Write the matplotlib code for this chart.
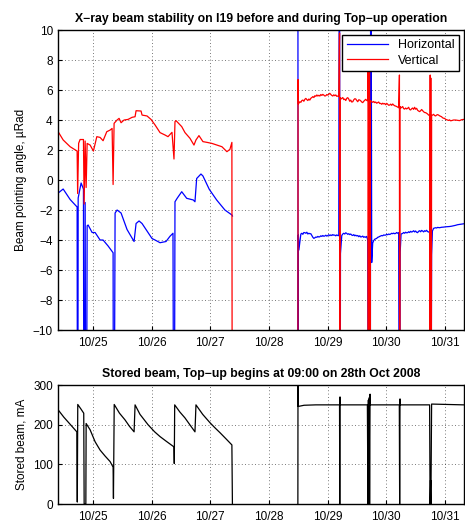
import numpy as np
import matplotlib
matplotlib.use("Agg")
import matplotlib.pyplot as plt

plt.rcParams['font.family'] = ['Liberation Sans', 'DejaVu Sans']

nan = np.nan
# ---- Horizontal beam pointing angle (time in days of October 2008, value in µRad)
h_t = [24.403, 24.489, 24.608, 24.727, 24.736, 24.745, 24.795, 24.835, 24.847, 24.864, 24.881,
       24.898, 24.915, 24.983, 25.034, 25.119, 25.170, 25.256, 25.341, 25.349, 25.375, 25.409,
       25.477, 25.579, 25.699, 25.733, 25.784, 25.835, 25.937, 26.005, 26.057, 26.142, 26.244,
       26.312, 26.363, 26.380, 26.397, 26.437, 26.512, 26.597, 26.709, 26.738, 26.767, 26.840,
       26.874, 26.982, 27.108, 27.249, 27.368, 27.377, 27.40,
       28.494, 28.498, 28.503, 28.511,
       28.545, 28.562, 28.579, 28.596, 28.613, 28.630, 28.647, 28.664, 28.681, 28.698, 28.715,
       28.733, 28.750, 28.767, 28.784, 28.801, 28.818, 28.835, 28.852, 28.869, 28.886, 28.903,
       28.920, 28.937, 28.954, 28.971, 28.988, 29.005, 29.022, 29.039, 29.056, 29.073, 29.090,
       29.107, 29.124, 29.141, 29.158, 29.175, 29.192,
       29.205, 29.212, 29.221,
       29.243, 29.260, 29.277, 29.294, 29.311, 29.328, 29.345, 29.362, 29.379, 29.396, 29.413,
       29.431, 29.448, 29.465, 29.482, 29.499, 29.516, 29.533, 29.550, 29.567, 29.584, 29.601,
       29.618, 29.635, 29.652, 29.669, 29.686,
       29.700, 29.720, 29.730, 29.737,
       29.754, 29.771, 29.788, 29.805, 29.822, 29.839, 29.856, 29.873, 29.890, 29.908, 29.925,
       29.942, 29.959, 29.976, 29.993, 30.010, 30.027, 30.044, 30.061, 30.078, 30.095, 30.112,
       30.129, 30.146, 30.163, 30.180, 30.197, 30.214,
       30.231,
       30.240, 30.255, 30.282, 30.299, 30.316, 30.333, 30.350, 30.367, 30.384, 30.401, 30.418,
       30.435, 30.452, 30.469, 30.486, 30.503, 30.520, 30.537, 30.554, 30.572, 30.589, 30.606,
       30.623, 30.640, 30.657, 30.674, 30.691, 30.708, 30.725, 30.742,
       30.759,
       30.776, 30.790, 30.810, 30.827, 30.844, 30.861, 30.878, 30.912, 30.946, 30.980, 31.014,
       31.048, 31.082, 31.116, 31.150, 31.185, 31.219, 31.253, 31.287, 31.321]
h_v = [-0.87, -0.6, -1.3, -1.8, -30, -1.2, -0.2, -0.6, -30, -1.5, -30,
       -3.05, -3.0, -3.5, -3.5, -4.0, -4.0, -4.4, -4.85, -30, -2.2, -2.0,
       -2.2, -3.3, -4.1, -2.9, -2.73, -2.9, -3.5, -3.9, -4.0, -4.18, -4.1,
       -3.75, -3.55, -30, -1.45, -1.2, -0.78, -1.22, -1.33, -1.45, 0.1, 0.4,
       0.27, -0.62, -1.33, -2.0, -2.33, -2.4, nan,
       30, -30, -3.67, -4.67,
       -3.6, -3.55, -3.62, -3.5, -3.51, -3.55, -3.48, -3.6, -3.55, -3.58, -3.58,
       -3.7, -3.82, -3.89, -3.85, -3.8, -3.82, -3.76, -3.8, -3.78, -3.72, -3.76,
       -3.7, -3.75, -3.73, -3.68, -3.74, -3.7, -3.65, -3.71, -3.66, -3.7, -3.64,
       -3.68, -3.67, -3.72, -3.66, -3.7, -3.71,
       30, -30, -4.9,
       -3.7, -3.6, -3.55, -3.6, -3.52, -3.56, -3.62, -3.58, -3.64, -3.6, -3.67,
       -3.7, -3.64, -3.72, -3.68, -3.73, -3.7, -3.78, -3.72, -3.8, -3.78, -3.74,
       -3.82, -3.78, -3.82, -3.76, -4.0,
       -30, -7.7, -30, 30,
       -5.5, -4.2, -4.04, -3.95, -3.92, -3.89, -3.82, -3.8, -3.76, -3.73, -3.7,
       -3.72, -3.66, -3.68, -3.67, -3.62, -3.65, -3.6, -3.63, -3.6, -3.55, -3.58,
       -3.54, -3.58, -3.56, -3.5, -3.55, -3.51,
       -30,
       -4.8, -3.6, -3.56, -3.5, -3.55, -3.48, -3.52, -3.51, -3.45, -3.5, -3.42,
       -3.47, -3.44, -3.38, -3.46, -3.4, -3.48, -3.51, -3.42, -3.38, -3.45, -3.36,
       -3.4, -3.46, -3.38, -3.42, -3.35, -3.44, -3.46, -3.51,
       -30,
       -5.0, -3.4, -3.22, -3.2, -3.18, -3.2, -3.16, -3.18, -3.15, -3.14, -3.12,
       -3.11, -3.1, -3.08, -3.05, -3.02, -2.98, -2.96, -2.94, -2.92]

# ---- Vertical beam pointing angle
v_t = [24.403, 24.489, 24.608, 24.727, 24.736, 24.753, 24.778, 24.835, 24.847, 24.864, 24.881,
       24.898, 24.949, 25.005, 25.063, 25.119, 25.170, 25.233, 25.290, 25.324, 25.341, 25.358,
       25.409, 25.443, 25.477, 25.528, 25.596, 25.665, 25.716, 25.733, 25.818, 25.835, 25.920,
       25.988, 26.057, 26.142, 26.227, 26.278, 26.346, 26.380, 26.397, 26.414, 26.512, 26.568,
       26.653, 26.721, 26.755, 26.806, 26.874, 26.943, 27.028, 27.113, 27.198, 27.283, 27.334,
       27.368, 27.377, 27.40,
       28.494, 28.497,
       28.502, 28.515, 28.528, 28.545, 28.562, 28.579, 28.596, 28.613, 28.630, 28.647, 28.664,
       28.681, 28.698, 28.715, 28.733, 28.750, 28.767, 28.784, 28.801, 28.818, 28.835, 28.852,
       28.869, 28.886, 28.903, 28.920, 28.937, 28.954, 28.971, 28.988, 29.005, 29.022, 29.039,
       29.056, 29.073, 29.090, 29.107, 29.124, 29.141, 29.158, 29.175, 29.192,
       29.205, 29.209,
       29.215, 29.230, 29.243, 29.260, 29.277, 29.294, 29.311, 29.328, 29.345, 29.362, 29.379,
       29.396, 29.413, 29.431, 29.448, 29.465, 29.482, 29.499, 29.516, 29.533, 29.550, 29.567,
       29.584, 29.601, 29.618, 29.635, 29.652, 29.669, 29.686,
       29.690, 29.695, 29.702, 29.709, 29.716, 29.724,
       29.732, 29.754, 29.771, 29.788, 29.805, 29.822, 29.839, 29.856, 29.873, 29.890, 29.908,
       29.925, 29.942, 29.959, 29.976, 29.993, 30.010, 30.027, 30.044, 30.061, 30.078, 30.095,
       30.112, 30.129, 30.146, 30.163, 30.180, 30.197, 30.214,
       30.227, 30.231,
       30.237, 30.250, 30.265, 30.282, 30.299, 30.316, 30.333, 30.350, 30.367, 30.384, 30.401,
       30.418, 30.435, 30.452, 30.469, 30.486, 30.503, 30.520, 30.537, 30.554, 30.572, 30.589,
       30.606, 30.623, 30.640, 30.657, 30.674, 30.691, 30.708, 30.725, 30.742,
       30.746, 30.752, 30.757, 30.762, 30.768,
       30.776, 30.793, 30.810, 30.827, 30.844, 30.861, 30.878, 30.895, 30.912, 30.929, 30.946,
       30.963, 30.980, 30.997, 31.014, 31.031, 31.048, 31.065, 31.082, 31.099, 31.116, 31.150,
       31.185, 31.219, 31.253, 31.287, 31.321]
v_v = [3.22, 2.67, 2.22, 1.93, -0.9, 2.45, 2.7, 2.7, -1.6, 2.6, -0.5,
       2.44, 2.33, 1.93, 2.89, 2.84, 2.62, 3.22, 3.33, 3.44, -0.3, 3.78,
       4.0, 4.11, 3.82, 4.0, 4.04, 4.18, 4.22, 4.62, 4.6, 4.33, 4.27,
       4.04, 3.67, 3.16, 3.0, 2.89, 3.18, 1.4, 3.89, 3.96, 3.56, 3.16,
       2.78, 2.33, 2.67, 2.96, 2.56, 2.51, 2.44, 2.33, 2.22, 1.89, 2.04,
       2.51, -30, nan,
       -30, 6.7,
       5.07, 5.15, 5.22, 5.18, 5.3, 5.33, 5.25, 5.38, 5.44, 5.36, 5.3,
       5.4, 5.33, 5.45, 5.5, 5.56, 5.5, 5.62, 5.58, 5.67, 5.6, 5.65,
       5.6, 5.7, 5.64, 5.71, 5.66, 5.6, 5.62, 5.7, 5.66, 5.72, 5.78,
       5.7, 5.64, 5.6, 5.68, 5.62, 5.67, 5.58, 5.6, 5.56,
       9.8, -30,
       5.5, 5.4, 5.44, 5.5, 5.36, 5.4, 5.3, 5.45, 5.49, 5.4, 5.25,
       5.33, 5.2, 5.22, 5.35, 5.42, 5.4, 5.3, 5.22, 5.35, 5.33, 5.28,
       5.2, 5.16, 5.25, 5.32, 5.38, 5.3, 5.3,
       7.5, -30, 7.3, -30, 7.5, -30,
       5.3, 5.22, 5.18, 5.24, 5.16, 5.2, 5.12, 5.16, 5.2, 5.1, 5.11,
       5.05, 5.12, 5.07, 5.1, 5.02, 5.11, 5.05, 4.98, 5.0, 5.06, 4.98,
       5.07, 5.0, 4.95, 4.93, 4.9, 4.86, 4.82,
       7.0, -30,
       4.9, 4.8, 4.84, 4.9, 4.76, 4.73, 4.8, 4.74, 4.78, 4.85, 4.7,
       4.67, 4.75, 4.8, 4.71, 4.85, 4.72, 4.78, 4.65, 4.6, 4.56, 4.62,
       4.7, 4.62, 4.55, 4.5, 4.49, 4.45, 4.4, 4.33, 4.3,
       -30, 7.0, -30, 6.8, -30,
       4.3, 4.33, 4.38, 4.3, 4.27, 4.33, 4.36, 4.33, 4.28, 4.25, 4.22,
       4.15, 4.12, 4.11, 4.05, 4.02, 4.0, 3.97, 4.01, 3.95, 3.96, 4.0,
       4.0, 3.98, 3.96, 4.02, 4.04]

# ---- Stored beam current (mA)
beam_t = [24.395, 24.50, 24.62, 24.722, 24.730, 24.738, 24.790, 24.840, 24.847, 24.876, 24.881,
          24.949, 25.034, 25.119, 25.204, 25.290, 25.341, 25.347, 25.360, 25.45, 25.545, 25.62, 25.699,
          25.716, 25.80, 25.937, 26.05, 26.142, 26.25, 26.380, 26.385, 26.392, 26.48, 26.568, 26.65,
          26.738, 26.755, 26.87, 26.994, 27.08, 27.164, 27.27, 27.368, 27.377, 27.40,
          28.494, 28.496, 28.500, 28.60, 28.80, 29.205, 29.209, 29.213, 29.218, 29.680, 29.690,
          29.697, 29.704, 29.712, 29.718, 29.726, 29.732, 30.225, 30.231, 30.237, 30.243, 30.742,
          30.750, 30.758, 30.764, 30.776, 31.321]
beam_v = [239, 219, 199, 182, 5, 251, 240, 229, 0, 0, 203,
          187, 157, 136, 121, 107, 93, 14, 251, 229, 212, 196, 182,
          250, 226, 200, 182, 170, 158, 144, 102, 250, 232, 217, 200,
          182, 250, 226, 205, 192, 180, 164, 149, 0, nan,
          0, 300, 246, 249, 250, 250, 0, 270, 250, 250, 0,
          262, 0, 268, 0, 277, 250, 250, 0, 265, 250, 250,
          0, 60, 0, 252, 250]

xticks = [25, 26, 27, 28, 29, 30, 31]
xticklabels = ['10/25', '10/26', '10/27', '10/28', '10/29', '10/30', '10/31']
xlim = (24.395, 31.33)

fig = plt.figure(figsize=(4.65, 5.23), dpi=100)
ax1 = fig.add_axes([0.124, 0.369, 0.874, 0.5736])
ax2 = fig.add_axes([0.124, 0.0363, 0.874, 0.2275])

ax1.plot(h_t, h_v, color='#0000ff', lw=0.9, label='Horizontal')
ax1.plot(v_t, v_v, color='#ff0000', lw=0.9, label='Vertical')
ax1.set_ylim(-10, 10)
ax1.set_yticks(np.arange(-10, 11, 2))
ax1.set_ylabel('Beam pointing angle, µRad', fontsize=8.5)
ax1.set_title('X\u2212ray beam stability on I19 before and during Top\u2212up operation',
              fontsize=8.8, fontweight='bold', pad=6)
leg = ax1.legend(loc='upper right', fontsize=9, fancybox=False, framealpha=1,
                 edgecolor='k', borderaxespad=0.4, handlelength=3.3, borderpad=0.35,
                 labelspacing=0.25)
leg.get_frame().set_linewidth(1.0)

ax2.plot(beam_t, beam_v, color='k', lw=0.9)
ax2.set_ylim(0, 300)
ax2.set_yticks([0, 100, 200, 300])
ax2.set_ylabel('Stored beam, mA', fontsize=8.5)
ax2.set_title('Stored beam, Top\u2212up begins at 09:00 on 28th Oct 2008',
              fontsize=8.8, fontweight='bold', pad=6)

for ax in (ax1, ax2):
    ax.set_xlim(*xlim)
    ax.set_xticks(xticks)
    ax.set_xticklabels(xticklabels)
    ax.tick_params(direction='in', labelsize=8.5, length=3, width=0.8)
    ax.tick_params(axis='x', pad=5)
    ax.grid(True, linestyle=(0, (1, 3)), color='k', linewidth=0.6, alpha=0.7)
    for s in ax.spines.values():
        s.set_linewidth(1.0)

fig.savefig('out.png', dpi=100)
